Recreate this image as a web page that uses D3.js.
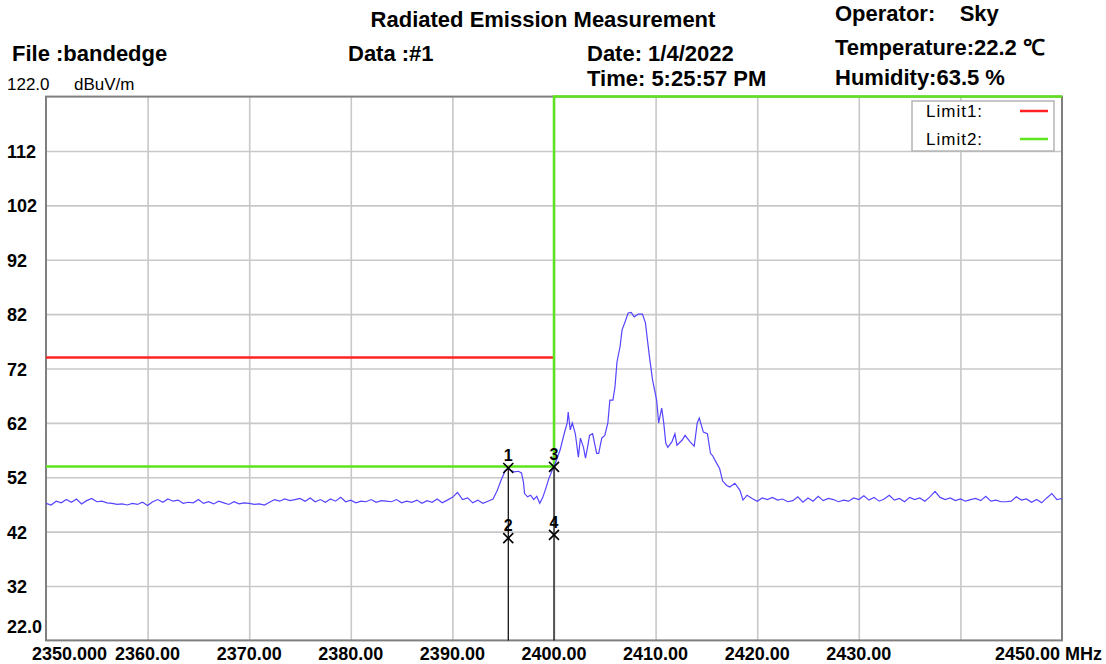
<!DOCTYPE html>
<html>
<head>
<meta charset="utf-8">
<script src="https://cdn.jsdelivr.net/npm/d3@7/dist/d3.min.js"></script>
<style>
body { margin: 0; background: #fff; }
svg text { font-family: "Liberation Sans", Arial, sans-serif; fill: #000; }
</style>
</head>
<body>
<div id="container"></div>
<script>
// header strings
const titleText = "Radiated Emission Measurement";
const fileText = "File :bandedge";
const dataText = "Data :#1";
const dateText = "Date: 1/4/2022";
const timeText = "Time: 5:25:57 PM";
const operatorText = "Operator:    Sky";
const tempText = "Temperature:22.2 \u2103";
const humidText = "Humidity:63.5 %";
const unitText = "dBuV/m";

// axes
const freqRange = [2350, 2450];
const levelRange = [22, 122];
const xTicks = [2350, 2360, 2370, 2380, 2390, 2400, 2410, 2420, 2430, 2440, 2450];
const xTickLabels = ["2350.000", "2360.00", "2370.00", "2380.00", "2390.00", "2400.00", "2410.00", "2420.00", "2430.00", "", "2450.00 MHz"];
const yTicks = [112, 102, 92, 82, 72, 62, 52, 42, 32];
const yTopLabel = "122.0";
const yBottomLabel = "22.0";

// limits  [MHz, dBuV/m]
const limit1 = [[2350, 74], [2400, 74]];
const limit2 = [[2350, 54], [2400, 54], [2400, 122], [2450, 122]];
const legendNames = ["Limit1:", "Limit2:"];

// markers
const markerIds = ["1", "2", "3", "4"];
const markerFreq = [2395.5, 2395.5, 2400.0, 2400.0];
const markerLevel = [53.7, 40.8, 53.9, 41.4];

// measured trace [MHz, dBuV/m]
const traceLow = [
  [2350,47.2],[2350.5,46.9],[2351,47.6],[2351.5,47.3],[2352,47.9],[2352.5,47.4],[2353,48.0],[2353.5,47.1],
  [2354,47.7],[2354.5,48.1],[2355,47.5],[2355.5,47.6],[2356,47.3],[2356.5,47.2],[2357,47.0],[2357.5,47.1],
  [2358,46.9],[2358.5,47.2],[2359,47.0],[2359.5,47.4],[2360,46.8],[2360.5,47.5],[2361,47.9],[2361.5,47.4],
  [2362,48.0],[2362.5,47.6],[2363,47.8],[2363.5,47.2],[2364,47.4],[2364.5,47.3],[2365,47.9],[2365.5,47.2],
  [2366,47.5],[2366.5,47.1],[2367,47.6],[2367.5,47.3],[2368,47.0],[2368.5,47.5],[2369,47.1],[2369.5,47.3],
  [2370,47.2],[2370.5,47.0],[2371,47.1],[2371.5,46.9],[2372,47.4],[2372.5,47.9],[2373,47.6],[2373.5,48.0],
  [2374,47.7],[2374.5,47.9],[2375,48.1],[2375.5,47.6],[2376,48.2],[2376.5,47.5],[2377,47.9],[2377.5,47.4],
  [2378,48.0],[2378.5,47.6],[2379,48.3],[2379.5,47.5],[2380,47.8],[2380.5,47.3],[2381,47.6],[2381.5,47.5],
  [2382,47.9],[2382.5,47.4],[2383,47.7],[2383.5,47.6],[2384,47.5],[2384.5,47.9],[2385,47.3],[2385.5,47.6],
  [2386,47.4],[2386.5,47.8],[2387,47.2],[2387.5,47.7],[2388,47.4],[2388.5,48.0],[2389,47.3],[2389.5,47.8],
  [2390,48.3],[2390.5,49.2],[2391,47.9],[2391.5,48.2],[2392,47.3],[2392.5,47.8],[2393,47.2],[2393.5,47.6]
];
const traceSignal = [
  [2394.0,48.0],[2394.4,49.5],[2394.8,51.5],[2395.2,53.2],[2395.5,53.7],[2395.7,53.3],[2396.1,53.0],[2396.5,53.1],
  [2396.8,52.8],[2397.0,51.0],[2397.1,49.0],[2397.4,48.4],[2397.7,48.7],[2398.0,47.9],[2398.3,48.5],[2398.6,47.2],
  [2398.9,48.3],[2399.2,50.0],[2399.5,51.8],[2399.8,53.2],[2400.0,53.9],[2400.3,55.5],[2400.6,57.0],[2401.0,60.0],
  [2401.3,62.0],[2401.4,64.0],[2401.6,60.7],[2401.8,62.0],[2402.1,60.0],[2402.4,55.7],[2402.6,59.2],[2402.9,57.5],
  [2403.1,55.5],[2403.3,57.5],[2403.5,59.7],[2403.8,60.0],[2404.2,56.4],[2404.4,56.4],[2404.7,59.2],[2405.0,59.7],
  [2405.3,62.0],[2405.5,66.2],[2405.8,66.2],[2406.0,68.6],[2406.2,73.2],[2406.5,76.0],[2406.7,79.1],[2407.0,80.6],
  [2407.3,82.2],[2407.6,82.3],[2407.9,81.5],[2408.3,82.0],[2408.7,82.0],[2409.0,80.4],[2409.2,77.2],[2409.4,74.1],
  [2409.7,69.9],[2410.1,66.2],[2410.3,62.0],[2410.6,64.7],[2410.8,62.0],[2411.0,58.3],[2411.2,57.5],[2411.6,58.5],
  [2411.9,60.0],[2412.1,57.9],[2412.6,58.8],[2412.9,59.7],[2413.4,58.5],[2413.8,57.7],[2414.1,62.0],[2414.3,62.9],
  [2414.7,60.3],[2415.1,60.0],[2415.4,56.4],[2415.6,56.0],[2416.0,54.6],[2416.3,53.6],[2416.6,51.3],[2417.0,50.5],
  [2417.3,50.2],[2417.8,50.9],[2418.3,49.6],[2418.6,47.8],[2419.0,48.7]
];
const traceHigh = [
  [2419.5,48.1],[2420,47.6],[2420.5,48.2],[2421,47.9],[2421.5,48.3],[2422,47.8],[2422.5,48.0],[2423,47.5],
  [2423.5,47.7],[2424,48.4],[2424.5,47.4],[2425,48.2],[2425.5,47.6],[2426,48.5],[2426.5,47.7],[2427,48.1],
  [2427.5,47.9],[2428,47.5],[2428.5,47.8],[2429,47.6],[2429.5,48.2],[2430,47.9],[2430.5,48.6],[2431,47.8],
  [2431.5,48.3],[2432,47.6],[2432.5,48.0],[2433,48.7],[2433.5,47.8],[2434,48.1],[2434.5,47.5],[2435,48.3],
  [2435.5,47.9],[2436,48.2],[2436.5,47.6],[2437,48.4],[2437.5,49.4],[2438,48.3],[2438.5,47.9],[2439,48.2],
  [2439.5,47.7],[2440,48.0],[2440.5,47.6],[2441,47.9],[2441.5,48.1],[2442,47.7],[2442.5,48.5],[2443,47.6],
  [2443.5,47.8],[2444,47.5],[2444.5,47.5],[2445,47.6],[2445.5,48.4],[2446,47.8],[2446.5,48.0],[2447,47.4],
  [2447.5,47.9],[2448,47.3],[2448.5,48.2],[2449,49.0],[2449.5,47.9],[2450,48.1]
];

drawChart();

function drawChart(){
const width = 1106;
const height = 664;
const left = 46;
const top = 96.6;
const plotW = 1016;
const plotH = 543.8;

const svg = d3.select("div#container").append("svg")
    .attr("width", width)
    .attr("height", height)
    .style("display", "block");

svg.append("rect").attr("width", width).attr("height", height).attr("fill", "#fff");

const xScale = d3.scaleLinear().domain(freqRange).range([left, left + plotW]);
const yScale = d3.scaleLinear().domain(levelRange).range([top + plotH, top]);

// header
const header = svg.append("g").style("font-size", "22px").style("font-weight", "bold");
header.append("text").attr("x", 543).attr("y", 27).attr("text-anchor", "middle").text(titleText);
header.append("text").attr("x", 12).attr("y", 61).text(fileText);
header.append("text").attr("x", 348).attr("y", 61).text(dataText);
header.append("text").attr("x", 587).attr("y", 61).text(dateText);
header.append("text").attr("x", 587).attr("y", 86).text(timeText);
header.append("text").attr("x", 835).attr("y", 21).attr("xml:space", "preserve").text(operatorText);
header.append("text").attr("x", 835).attr("y", 55).text(tempText);
header.append("text").attr("x", 835).attr("y", 85).text(humidText);

svg.append("text").attr("x", 7).attr("y", 90).style("font-size", "17px").text(yTopLabel);
svg.append("text").attr("x", 74).attr("y", 90).style("font-size", "17px").text(unitText);

// grid
const xaxis = d3.axisBottom(xScale)
    .tickValues(xTicks.slice(1, -1))
    .tickSize(-plotH)
    .tickFormat("");
svg.append("g")
    .attr("class", "grid")
    .attr("transform", "translate(0," + (top + plotH) + ")")
    .call(xaxis);

const yaxis = d3.axisLeft(yScale)
    .tickValues(yTicks)
    .tickSize(-plotW)
    .tickFormat("");
svg.append("g")
    .attr("class", "grid")
    .attr("transform", "translate(" + left + ",0)")
    .call(yaxis);

svg.selectAll(".grid .domain").remove();
svg.selectAll(".grid line").attr("stroke", "#c8c8c8").attr("stroke-width", 1.6);

// tick labels
svg.append("g").selectAll("text")
    .data(xTicks)
    .join("text")
    .attr("x", (d, i) => i === 0 ? xScale(d) - 14 : (i === xTicks.length - 1 ? xScale(d) + 40 : xScale(d)))
    .attr("y", 660)
    .attr("text-anchor", (d, i) => i === 0 ? "start" : (i === xTicks.length - 1 ? "end" : "middle"))
    .style("font-size", "18px")
    .style("font-weight", "bold")
    .text((d, i) => xTickLabels[i]);

svg.append("g").selectAll("text")
    .data(yTicks)
    .join("text")
    .attr("x", 7)
    .attr("y", d => yScale(d) + 7)
    .style("font-size", "18px")
    .style("font-weight", "bold")
    .text(d => d);
svg.append("text").attr("x", 7).attr("y", yScale(levelRange[0]) - 7)
    .style("font-size", "18px").style("font-weight", "bold").text(yBottomLabel);

// frame
svg.append("rect")
    .attr("x", left).attr("y", top)
    .attr("width", plotW).attr("height", plotH)
    .attr("fill", "none")
    .attr("stroke", "#7f7f7f")
    .attr("stroke-width", 2);

const line = d3.line()
    .x(d => xScale(d[0]))
    .y(d => yScale(d[1]));

// limits
svg.append("path").attr("d", line(limit1))
    .attr("stroke", "#ff2222").attr("stroke-width", 2.5).attr("fill", "none");
svg.append("path").attr("d", line(limit2))
    .attr("stroke", "#5ee41c").attr("stroke-width", 2.5).attr("fill", "none");

// trace
const trace = traceLow.concat(traceSignal, traceHigh);
svg.append("path").attr("d", line(trace))
    .attr("stroke", "#5544ff").attr("stroke-width", 1.2).attr("fill", "none");

// marker lines (down from upper marker at each frequency)
[0, 2].forEach(i => {
    svg.append("line")
        .attr("x1", xScale(markerFreq[i])).attr("x2", xScale(markerFreq[i]))
        .attr("y1", yScale(markerLevel[i])).attr("y2", top + plotH)
        .attr("stroke", "#000").attr("stroke-width", 1.2);
});

markerIds.forEach((id, i) => {
    const mx = xScale(markerFreq[i]);
    const my = yScale(markerLevel[i]);
    const s = 5;
    svg.append("path")
        .attr("d", "M" + (mx - s) + "," + (my - s) + "L" + (mx + s) + "," + (my + s) +
                   "M" + (mx - s) + "," + (my + s) + "L" + (mx + s) + "," + (my - s))
        .attr("stroke", "#000").attr("stroke-width", 1.6);
    svg.append("text")
        .attr("x", mx).attr("y", my - 7)
        .attr("text-anchor", "middle")
        .style("font-size", "16px").style("font-weight", "bold")
        .text(id);
});

// legend
const legend = svg.append("g");
legend.append("rect")
    .attr("x", 912).attr("y", 101).attr("width", 142).attr("height", 50)
    .attr("fill", "#fff").attr("stroke", "#b4b4b4").attr("stroke-width", 1.5);
const legendColors = ["#ff2222", "#5ee41c"];
legendNames.forEach((n, i) => {
    legend.append("text")
        .attr("x", 926).attr("y", 117 + i * 28)
        .style("font-size", "17px")
        .style("letter-spacing", "1px")
        .text(n);
    legend.append("line")
        .attr("x1", 1020).attr("x2", 1048)
        .attr("y1", 111 + i * 28).attr("y2", 111 + i * 28)
        .attr("stroke", legendColors[i]).attr("stroke-width", 2.5);
});
}
</script>
</body>
</html>
